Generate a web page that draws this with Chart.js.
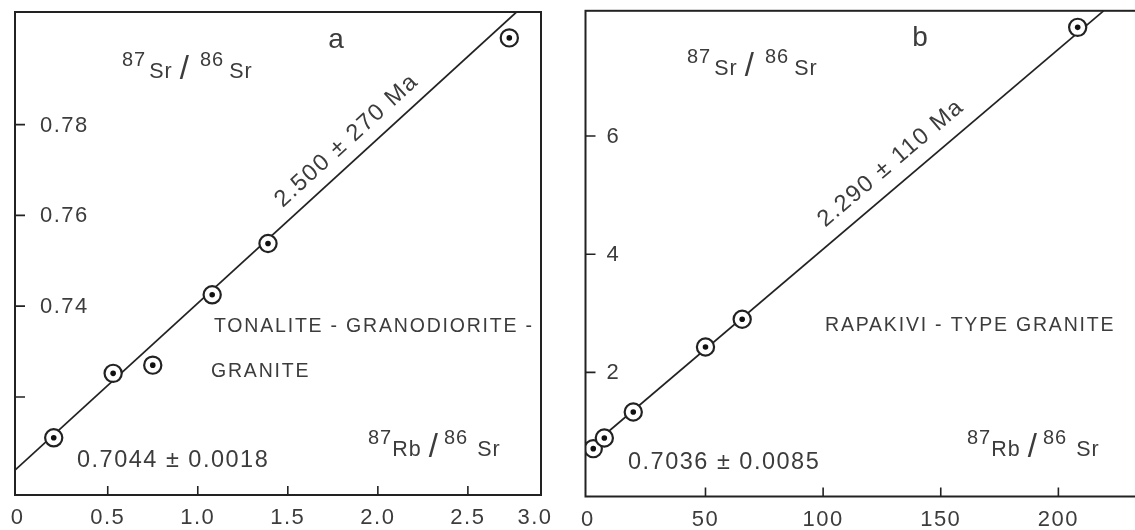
<!DOCTYPE html>
<html>
<head>
<meta charset="utf-8">
<script src="https://cdn.jsdelivr.net/npm/chart.js@4.4.1/dist/chart.umd.min.js"></script>
<style>
    html, body { margin: 0; padding: 0; background: #fff; overflow: hidden; width: 1135px; height: 530px; }
    #wrapA { position: absolute; left: 0; top: 0; }
    #wrapB { position: absolute; left: 560px; top: 0; }
</style>
</head>
<body>
<div id="wrapA"><canvas id="chartA" width="560" height="530"></canvas></div>
<div id="wrapB"><canvas id="chartB" width="600" height="530"></canvas></div>
<script>
'use strict';

// Panel a: tonalite - granodiorite - granite
const aRbSr = [0.20, 0.53, 0.75, 1.08, 1.39, 2.73];
const aSrSr = [0.7110, 0.7252, 0.7270, 0.7425, 0.7538, 0.7991];
const aLineRb = [-0.015, 2.77];
const aLineSr = [0.7039, 0.8048];
const aXTicks = [0, 0.5, 1.0, 1.5, 2.0, 2.5, 3.0];
const aXLabels = ['0', '0.5', '1.0', '1.5', '2.0', '2.5', '3.0'];
const aYTicks = [0.72, 0.74, 0.76, 0.78];
const aYLabels = ['', '0.74', '0.76', '0.78'];

// Panel b: rapakivi-type granite
const bRbSr = [2.3, 7.0, 19.3, 50.0, 65.6, 208.2];
const bSrSr = [0.71, 0.89, 1.33, 2.43, 2.90, 7.84];
const bLineRb = [-1, 219.2];
const bLineSr = [0.67, 8.12];
const bXTicks = [0, 50, 100, 150, 200];
const bXLabels = ['0', '50', '100', '150', '200'];
const bYTicks = [2, 4, 6];
const bYLabels = ['2', '4', '6'];

const INK = '#222';
const TEXT = '#3c3c3c';
const FONT = '"Liberation Sans", Arial, sans-serif';

function setFont(ctx, size, spacing) {
    ctx.font = size + 'px ' + FONT;
    ctx.letterSpacing = (spacing === undefined ? 1.5 : spacing) + 'px';
}

/**
 * Draw an isotope ratio like 87Sr/86Sr with raised mass numbers
 */
function drawRatio(ctx, x, y, top, bottom, gaps) {
    const parts = [
        { t: '87', size: 20, dy: -12.5 },
        { t: top, size: 21.5, dy: 0 },
        { t: '/', size: 33, dy: 1 },
        { t: '86', size: 20, dy: -12.5 },
        { t: bottom, size: 21.5, dy: 0 }
    ];
    ctx.textAlign = 'left';
    ctx.textBaseline = 'alphabetic';
    let cx = x;
    parts.forEach((p, i) => {
        setFont(ctx, p.size, 1);
        ctx.fillText(p.t, cx, y + p.dy);
        cx += ctx.measureText(p.t).width + (gaps[i] || 0);
    });
}

/**
 * Draw text parallel to the isochron, slightly above it
 */
function drawAlongLine(ctx, chart, lx, ly, atX, offset, str, size) {
    const xs = chart.scales.x, ys = chart.scales.y;
    const x0 = xs.getPixelForValue(lx[0]), y0 = ys.getPixelForValue(ly[0]);
    const x1 = xs.getPixelForValue(lx[1]), y1 = ys.getPixelForValue(ly[1]);
    const ang = Math.atan2(y1 - y0, x1 - x0);
    const t = (atX - lx[0]) / (lx[1] - lx[0]);
    const px = x0 + t * (x1 - x0), py = y0 + t * (y1 - y0);
    ctx.save();
    ctx.translate(px + Math.sin(ang) * offset, py - Math.cos(ang) * offset);
    ctx.rotate(ang);
    setFont(ctx, size, 1.6);
    ctx.textAlign = 'left';
    ctx.textBaseline = 'alphabetic';
    ctx.fillText(str, 0, 0);
    ctx.restore();
}

// Frame, inward ticks, tick labels and annotations
const isoAxes = {
    id: 'isoAxes',
    afterDraw(chart, args, o) {
        const ctx = chart.ctx;
        const a = chart.chartArea;
        const xs = chart.scales.x, ys = chart.scales.y;

        ctx.save();
        ctx.strokeStyle = INK;
        ctx.lineWidth = 2;
        ctx.strokeRect(a.left, a.top, a.right - a.left, a.bottom - a.top);

        // ticks
        ctx.lineWidth = 1.6;
        ctx.beginPath();
        o.xTicks.forEach(v => {
            const px = xs.getPixelForValue(v);
            if (px < a.left + 5 || px > a.right - 5) return;
            ctx.moveTo(px, a.bottom);
            ctx.lineTo(px, a.bottom - 9);
        });
        o.yTicks.forEach(v => {
            const py = ys.getPixelForValue(v);
            if (py < a.top + 5 || py > a.bottom - 5) return;
            ctx.moveTo(a.left, py);
            ctx.lineTo(a.left + 10, py);
        });
        ctx.stroke();

        ctx.fillStyle = TEXT;
        setFont(ctx, 22, 1.5);
        ctx.textBaseline = 'middle';
        ctx.textAlign = 'center';
        o.xTicks.forEach((v, i) => {
            let px = xs.getPixelForValue(v);
            if (px > a.right - 6) px = a.right - 6;
            ctx.fillText(o.xLabels[i], px, a.bottom + 23);
        });
        ctx.textAlign = 'left';
        o.yTicks.forEach((v, i) => {
            if (!o.yLabels[i]) return;
            ctx.fillText(o.yLabels[i], a.left + o.yLabelInset, ys.getPixelForValue(v) + 1);
        });

        // annotations
        ctx.textBaseline = 'alphabetic';
        setFont(ctx, 28, 0);
        ctx.textAlign = 'center';
        ctx.fillText(o.panel, o.panelAt[0], o.panelAt[1]);

        drawRatio(ctx, o.yTitleAt[0], o.yTitleAt[1], 'Sr', 'Sr', [3, 7, 10, 5]);
        drawRatio(ctx, o.xTitleAt[0], o.xTitleAt[1], 'Rb', 'Sr', [0, 7, 5, 9]);

        setFont(ctx, 19.5, 1.8);
        ctx.textAlign = 'left';
        o.rock.forEach((line, i) => {
            ctx.fillText(line, o.rockAt[0] - (i ? o.rockIndent : 0), o.rockAt[1] + i * 45);
        });

        setFont(ctx, 23.5, 1.5);
        ctx.fillText(o.initial, o.initialAt[0], o.initialAt[1]);

        drawAlongLine(ctx, chart, o.lineX, o.lineY, o.ageAtX, o.ageOffset, o.age, 23.5);
        ctx.restore();
    }
};

function makeIsochron(canvasId, pts, line, scales, padding, labels) {
    const ring = pts.x.map((x, i) => ({ x: x, y: pts.y[i] }));
    const fit = line.x.map((x, i) => ({ x: x, y: line.y[i] }));
    return new Chart(document.getElementById(canvasId), {
        type: 'scatter',
        data: {
            datasets: [
                { data: ring, pointRadius: 2.8, pointBackgroundColor: '#111', pointBorderWidth: 0, order: 0 },
                { data: ring, pointRadius: 8.6, pointBackgroundColor: '#fff', pointBorderColor: INK, pointBorderWidth: 2.2, order: 1 },
                { data: fit, showLine: true, borderColor: INK, borderWidth: 1.7, pointRadius: 0, order: 2 }
            ]
        },
        options: {
            responsive: false,
            animation: false,
            events: [],
            layout: { padding: padding },
            plugins: {
                legend: { display: false },
                tooltip: { enabled: false },
                isoAxes: labels
            },
            scales: {
                x: { type: 'linear', min: scales.xMin, max: scales.xMax, display: false },
                y: { type: 'linear', min: scales.yMin, max: scales.yMax, display: false }
            }
        },
        plugins: [isoAxes]
    });
}

makeIsochron('chartA',
    { x: aRbSr, y: aSrSr },
    { x: aLineRb, y: aLineSr },
    { xMin: -0.015, xMax: 2.906, yMin: 0.6984, yMax: 0.8048 },
    { left: 15, right: 19, top: 12, bottom: 35 },
    {
        xTicks: aXTicks, xLabels: aXLabels, yTicks: aYTicks, yLabels: aYLabels, yLabelInset: 25,
        panel: 'a', panelAt: [336, 48],
        yTitleAt: [122, 78], xTitleAt: [368, 456],
        rock: ['TONALITE - GRANODIORITE -', 'GRANITE'], rockAt: [214, 332], rockIndent: 3,
        initial: '0.7044 \u00b1 0.0018', initialAt: [77, 467],
        age: '2.500 \u00b1 270 Ma', lineX: aLineRb, lineY: aLineSr, ageAtX: 1.52, ageOffset: 13
    });

makeIsochron('chartB',
    { x: bRbSr, y: bSrSr },
    { x: bLineRb, y: bLineSr },
    { xMin: -1.0, xMax: 238.6, yMin: -0.10, yMax: 8.12 },
    { left: 25.5, right: 10, top: 10, bottom: 33.5 },
    {
        xTicks: bXTicks, xLabels: bXLabels, yTicks: bYTicks, yLabels: bYLabels, yLabelInset: 21,
        panel: 'b', panelAt: [360, 46],
        yTitleAt: [127, 75], xTitleAt: [407, 456],
        rock: ['RAPAKIVI - TYPE GRANITE'], rockAt: [265, 331], rockIndent: 0,
        initial: '0.7036 \u00b1 0.0085', initialAt: [68, 469],
        age: '2.290 \u00b1 110 Ma', lineX: bLineRb, lineY: bLineSr, ageAtX: 105, ageOffset: 15
    });
</script>
</body>
</html>
